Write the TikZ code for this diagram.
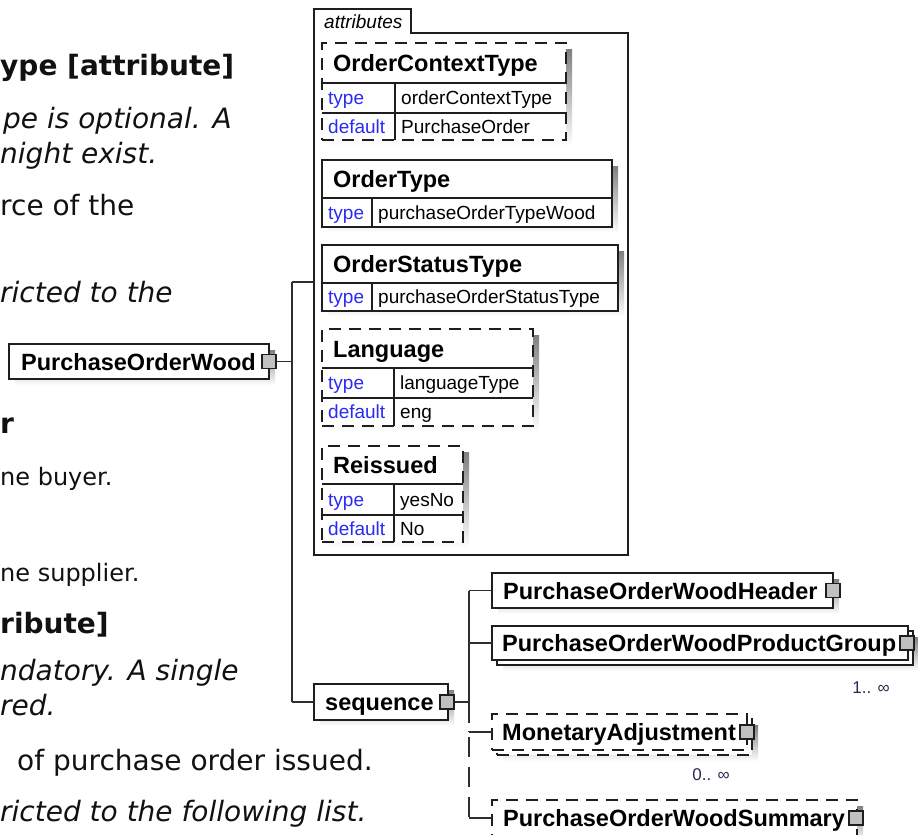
\documentclass[tikz,border=0pt]{standalone}
\usepackage{fontspec}
\setmainfont{Liberation Sans}
\newfontfamily\vfont{DejaVu Sans}
\definecolor{shade}{HTML}{C4C4C4}
\definecolor{boxc}{HTML}{1E1E1E}
\definecolor{linec}{HTML}{2E2E2E}
\definecolor{kw}{HTML}{2A2AF5}
\definecolor{expc}{HTML}{C0C0C0}
\definecolor{bodyc}{HTML}{111111}
\definecolor{multc}{HTML}{2A2A50}
\newcommand\shbox[6]{%
  \fill[shade] (#2+6,#3+6) rectangle (#4+6,#5+6);
  \node[boxn,#6,minimum width={(#4-#2)*1pt},minimum height={(#5-#3)*1pt}] (#1) at (#2,#3) {};}
\newcommand\plainbox[6]{%
  \node[boxn,#6,minimum width={(#4-#2)*1pt},minimum height={(#5-#3)*1pt}] (#1) at (#2,#3) {};}
\tikzset{
  boxn/.style={draw=boxc, fill=white, line width=1.5pt, inner sep=0pt, outer sep=0pt, anchor=north west},
  dbox/.style={dash pattern=on 12pt off 8pt},
  inl/.style={draw=boxc, line width=1.5pt},
  conn/.style={draw=linec, line width=1.5pt},
  dconn/.style={conn, dash pattern=on 20pt off 10pt},
  nm/.style={anchor=base west, inner sep=0pt, font=\bfseries\fontsize{23.5}{28}\selectfont},
  kwt/.style={anchor=base west, inner sep=0pt, text=kw, font=\fontsize{19}{22}\selectfont},
  val/.style={anchor=base west, inner sep=0pt, text=black, font=\fontsize{19}{22}\selectfont},
  expn/.style={draw=boxc, fill=expc, minimum size=14pt, inner sep=0pt, line width=1.3pt},
  mult/.style={inner sep=0pt, text=multc, font=\fontsize{17}{20}\selectfont},
  bg/.style={anchor=base west, inner sep=0pt, text=bodyc},
  bgb/.style={bg, font=\vfont\bfseries\fontsize{28}{34}\selectfont},
  bgi/.style={bg, font=\vfont\itshape\fontsize{28}{34}\selectfont},
  bgr/.style={bg, font=\vfont\fontsize{28}{34}\selectfont},
  bgs/.style={bg, font=\vfont\fontsize{24}{28}\selectfont},
}
\begin{document}
\begin{tikzpicture}[x=1pt,y=-1pt]
\useasboundingbox (0,0) rectangle (918,835);
\fill[white] (0,0) rectangle (918,835);
% background document text
\node[bgb] (t1) at (0,75) {ype [attribute]};
\node[bgi] (t2) at (3,128) {pe is optional. A};
\node[bgi] (t3) at (0,163) {night exist.};
\node[bgr] (t4) at (0,215) {rce of the};
\node[bgi] (t5) at (0,302) {ricted to the};
\node[bgb] (t6) at (0,433) {r};
\node[bgs] (t7) at (0,485) {ne buyer.};
\node[bgs] (t8) at (0,581) {ne supplier.};
\node[bgb] (t9) at (0,633) {ribute]};
\node[bgi] (t10) at (0,680) {ndatory. A single};
\node[bgi] (t11) at (0,715) {red.};
\node[bgr] (t12) at (17,770) {of purchase order issued.};
\node[bgi] (t13) at (0,821) {ricted to the following list.};

% attributes container
\node[inner sep=0pt, outer sep=0pt, minimum width=314pt, minimum height=522pt, anchor=north west] (attrs) at (314,33) {};
\draw[draw=boxc, line width=1.5pt] (411,33) -- (attrs.north east) -- (attrs.south east) -- (attrs.south west) -- (314,9) -- (411,9) -- cycle;
\node[anchor=base west, inner sep=0pt, font=\itshape\fontsize{19}{22}\selectfont] (tabt) at (324,28.5) {attributes};

% OrderContextType
\shbox{oct}{322}{43}{566}{140}{dbox}
\draw[inl] (322,83) -- (566,83) (322,113) -- (566,113) (395,83) -- (395,140);
\node[nm] (octn) at (333,71.6) {OrderContextType};
\node[kwt] (octk1) at (328,104.8) {type};
\node[val] (octv1) at (401,104.8) {orderContextType};
\node[kwt] (octk2) at (328,133.3) {default};
\node[val] (octv2) at (401,133.3) {PurchaseOrder};

% OrderType
\shbox{ot}{322}{160}{612}{227}{}
\draw[inl] (322,198) -- (612,198) (372,198) -- (372,227);
\node[nm] (otn) at (333,187.6) {OrderType};
\node[kwt] (otk1) at (328,219.3) {type};
\node[val] (otv1) at (378,219.3) {purchaseOrderTypeWood};

% OrderStatusType
\shbox{ost}{322}{245}{618}{311}{}
\draw[inl] (322,283) -- (618,283) (372,283) -- (372,311);
\node[nm] (ostn) at (333,272.6) {OrderStatusType};
\node[kwt] (ostk1) at (328,303.8) {type};
\node[val] (ostv1) at (378,303.8) {purchaseOrderStatusType};

% Language
\shbox{lng}{322}{329}{533}{426}{dbox}
\draw[inl] (322,368) -- (533,368) (322,398) -- (533,398) (394,368) -- (394,426);
\node[nm] (lngn) at (333,357.1) {Language};
\node[kwt] (lngk1) at (328,389.8) {type};
\node[val] (lngv1) at (400,389.8) {languageType};
\node[kwt] (lngk2) at (328,418.8) {default};
\node[val] (lngv2) at (400,418.8) {eng};

% Reissued
\shbox{rei}{322}{446}{463}{542}{dbox}
\draw[inl] (322,484) -- (463,484) (322,515) -- (463,515) (394,484) -- (394,542);
\node[nm] (rein) at (333,473.6) {Reissued};
\node[kwt] (reik1) at (328,506.3) {type};
\node[val] (reiv1) at (400,506.3) {yesNo};
\node[kwt] (reik2) at (328,535.3) {default};
\node[val] (reiv2) at (400,535.3) {No};

% PurchaseOrderWood
\shbox{pow}{9}{344}{269}{379}{}
\node[nm] (pown) at (21,370.1) {PurchaseOrderWood};
\node[expn] (powx) at (269,361.5) {};

% sequence
\shbox{seq}{314}{684}{448}{720}{}
\node[nm] (seqn) at (325,710.6) {sequence};
\node[expn] (seqx) at (447,702) {};

% children
\shbox{hdr}{492}{573}{833}{608}{}
\node[nm] (hdrn) at (503,599.1) {PurchaseOrderWoodHeader};
\node[expn] (hdrx) at (833,590.5) {};

\shbox{pgb}{497}{631}{913}{665}{}
\plainbox{pg}{492}{626}{908}{660}{}
\node[nm] (pgn) at (502,651.6) {PurchaseOrderWoodProductGroup};
\node[expn] (pgx) at (907,643) {};
\node[mult] (m1) at (871,688) {1.. ∞};

\shbox{mab}{497}{719}{752}{755}{dbox}
\plainbox{ma}{492}{714}{747}{750}{dbox}
\node[nm] (man) at (502,740.6) {MonetaryAdjustment};
\node[expn] (max) at (747,732) {};
\node[mult] (m2) at (711,775) {0.. ∞};

\shbox{sum}{492}{800}{857}{836}{dbox}
\node[nm] (sumn) at (503,826.6) {PurchaseOrderWoodSummary};
\node[expn] (sumx) at (856,818) {};

% connectors
\coordinate (ta) at (292,282);
\coordinate (tp) at (292,361.5);
\coordinate (ts) at (292,702);
\draw[conn] (powx.east) -- (tp);
\draw[conn] (ta) -- (ts);
\draw[conn] (ta) -- (attrs.west |- ta);
\draw[conn] (ts) -- (seq.west |- ts);

\coordinate (u0) at (469,702);
\coordinate (u1) at (469,590.5);
\coordinate (u2) at (469,643);
\coordinate (u3) at (469,732);
\coordinate (u4) at (469,818);
\draw[conn] (seqx.east) -- (u0);
\draw[conn] (u1) -- (u0);
\draw[conn] (u1) -- (hdr.west |- u1);
\draw[conn] (u2) -- (pg.west |- u2);
\draw[conn, dash pattern=on 21pt off 8pt] (u0) -- (u3);
\draw[conn] (u3) -- (ma.west |- u3);
\draw[dconn, dash phase=25pt] (u3) -- (u4);
\draw[conn] (u4) -- (sum.west |- u4);
\end{tikzpicture}
\end{document}
